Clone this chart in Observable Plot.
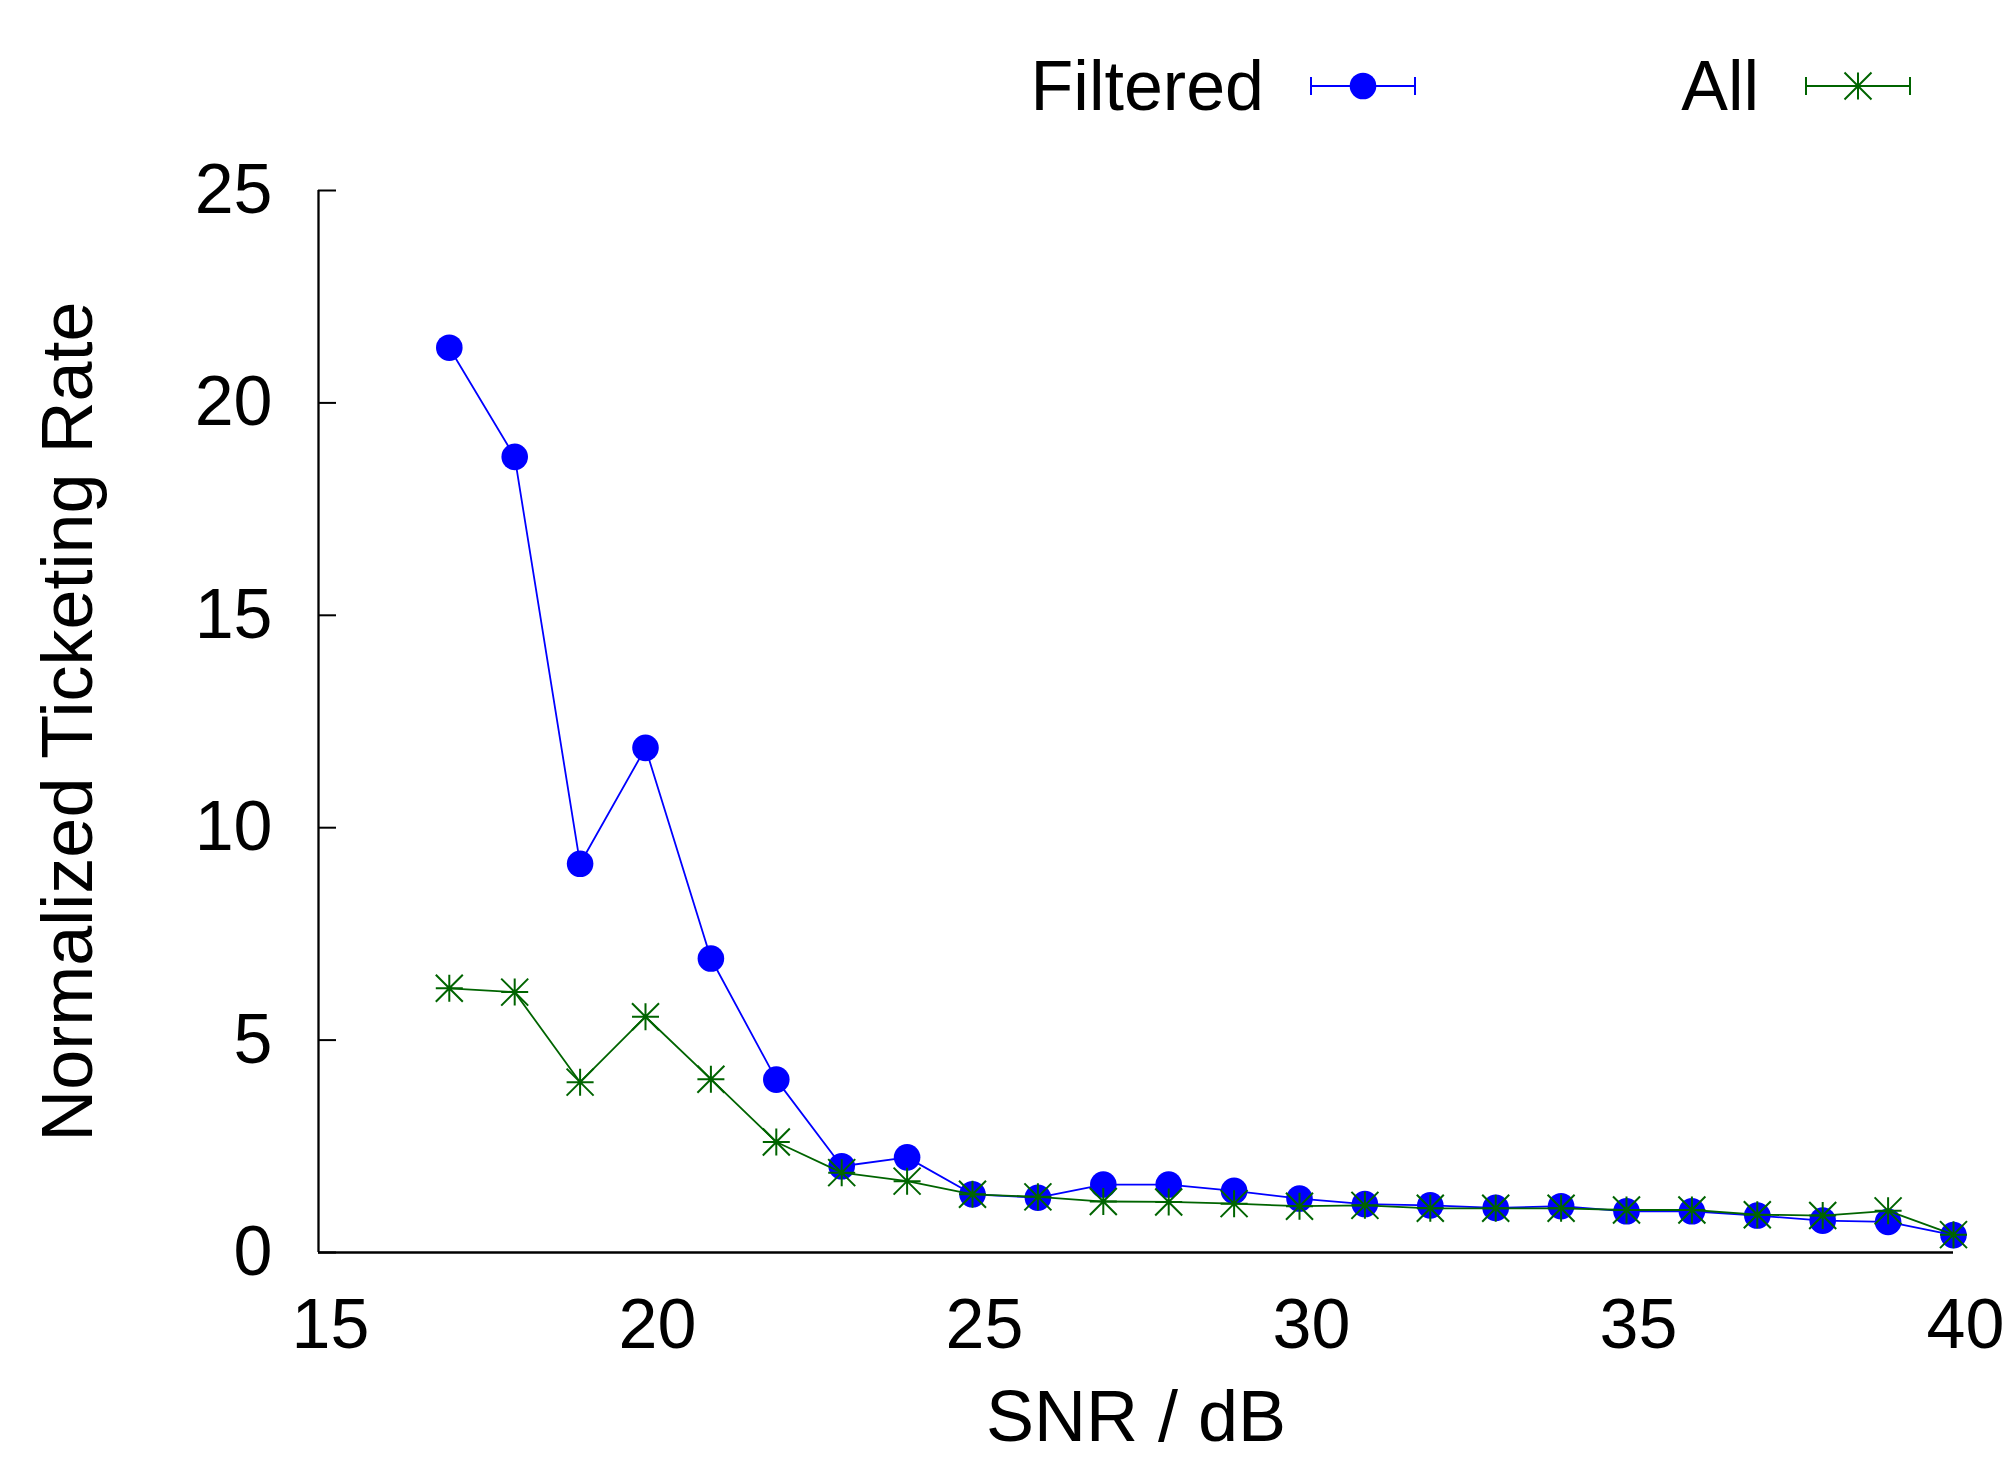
<!DOCTYPE html>
<html>
<head>
<meta charset="utf-8">
<script src="https://cdn.jsdelivr.net/npm/d3@7"></script>
<script src="https://cdn.jsdelivr.net/npm/@observablehq/plot@0.6"></script>
<style>
html, body { margin: 0; padding: 0; background: #ffffff; }
#chart svg { display: block; }
</style>
</head>
<body>
<div id="chart"></div>
<script>
// ---- data ----
const snr = [17, 18, 19, 20, 21, 22, 23, 24, 25, 26, 27, 28, 29, 30, 31, 32, 33, 34, 35, 36, 37, 38, 39, 40];
const filteredRate = [21.3, 18.73, 9.15, 11.88, 6.92, 4.07, 2.03, 2.24, 1.37, 1.29, 1.6, 1.6, 1.45, 1.27, 1.14, 1.11, 1.05, 1.09, 0.97, 0.97, 0.87, 0.75, 0.72, 0.41];
const allRate = [6.22, 6.13, 4.01, 5.55, 4.08, 2.6, 1.88, 1.68, 1.37, 1.31, 1.2, 1.19, 1.15, 1.09, 1.11, 1.04, 1.04, 1.04, 1.0, 1.0, 0.89, 0.87, 0.98, 0.42];
const xTicks = [15, 20, 25, 30, 35, 40];
const yTicks = [0, 5, 10, 15, 20, 25];
const seriesNames = ["Filtered", "All"];
const seriesColors = ["#0000ff", "#006400"];
const xLabel = "SNR / dB";
const yLabel = "Normalized Ticketing Rate";

// ---- style ----
const FONT = "'Liberation Sans', Arial, Helvetica, sans-serif";
const W = 2004;
const LEGEND_H = 150;
const FONT_SIZE = 70;
const LABEL_SIZE = 72;

const starSymbol = {
  draw(context, size) {
    const r = Math.sqrt(size / Math.PI);
    context.moveTo(-r, 0); context.lineTo(r, 0);
    context.moveTo(0, -r); context.lineTo(0, r);
    context.moveTo(-r, -r); context.lineTo(r, r);
    context.moveTo(-r, r); context.lineTo(r, -r);
  }
};

const toRows = (vals, name) => snr.map((x, i) => ({snr: x, value: vals[i], series: name}));
const dataFiltered = toRows(filteredRate, seriesNames[0]);
const dataAll = toRows(allRate, seriesNames[1]);

// ---- legend (above the plot SVG) ----
const legend = d3.create("svg")
  .attr("width", W)
  .attr("height", LEGEND_H)
  .attr("viewBox", `0 0 ${W} ${LEGEND_H}`)
  .style("display", "block")
  .style("background", "#ffffff");

seriesNames.forEach((name, i) => {
  const color = seriesColors[i];
  const right = 1264 + i * 495;
  const x1 = right + 47, x2 = x1 + 104, cx = (x1 + x2) / 2, cy = 86;
  legend.append("text")
    .attr("x", right).attr("y", 110)
    .attr("text-anchor", "end")
    .attr("font-family", FONT)
    .attr("font-size", FONT_SIZE)
    .attr("fill", "#000")
    .text(name);
  const g = legend.append("g").attr("stroke", color).attr("stroke-width", 2).attr("fill", "none");
  g.append("line").attr("x1", x1).attr("x2", x2).attr("y1", cy).attr("y2", cy);
  g.append("line").attr("x1", x1).attr("x2", x1).attr("y1", cy - 9).attr("y2", cy + 9);
  g.append("line").attr("x1", x2).attr("x2", x2).attr("y1", cy - 9).attr("y2", cy + 9);
  if (i === 0) {
    legend.append("circle").attr("cx", cx).attr("cy", cy).attr("r", 13.3).attr("fill", color);
  } else {
    const p = d3.path();
    starSymbol.draw(p, 13.5 * 13.5 * Math.PI);
    legend.append("path").attr("d", p.toString())
      .attr("transform", `translate(${cx},${cy})`)
      .attr("stroke", color).attr("stroke-width", 2).attr("fill", "none");
  }
});

// ---- plot ----
const chart = Plot.plot({
  width: W,
  height: 1308,
  marginTop: 40,
  marginRight: 51,
  marginBottom: 206,
  marginLeft: 318,
  style: {fontFamily: FONT, fontSize: FONT_SIZE + "px", background: "#ffffff", color: "#000000"},
  x: {domain: [15, 40]},
  y: {domain: [0, 25]},
  marks: [
    // x tick labels
    Plot.axisX({
      ticks: xTicks, tickSize: 0, tickPadding: 46, dx: 12,
      fontSize: FONT_SIZE, fill: "#000", label: null
    }),
    // x axis title
    Plot.axisX({
      ticks: [], tickSize: 0, fontSize: LABEL_SIZE, fill: "#000",
      label: xLabel, labelAnchor: "center", labelOffset: 188, labelArrow: "none"
    }),
    // y ticks (inward) and labels
    Plot.axisY({
      ticks: yTicks, tickSize: -18, tickPadding: 64, strokeWidth: 2,
      stroke: "#000", fontSize: FONT_SIZE, fill: "#000", label: null
    }),
    // y axis title
    Plot.axisY({
      ticks: [], tickSize: 0, fontSize: LABEL_SIZE, fill: "#000",
      label: yLabel, labelAnchor: "center", labelOffset: 278, labelArrow: "none"
    }),
    Plot.ruleX([15], {stroke: "#000", strokeWidth: 2.3}),
    Plot.ruleY([0], {stroke: "#000", strokeWidth: 2.3}),
    Plot.line(dataFiltered, {x: "snr", y: "value", stroke: seriesColors[0], strokeWidth: 1.8}),
    Plot.dot(dataFiltered, {x: "snr", y: "value", r: 13.3, fill: seriesColors[0], stroke: "none", symbol: "circle"}),
    Plot.line(dataAll, {x: "snr", y: "value", stroke: seriesColors[1], strokeWidth: 1.8}),
    Plot.dot(dataAll, {x: "snr", y: "value", r: 13.5, symbol: starSymbol, fill: "none", stroke: seriesColors[1], strokeWidth: 2})
  ]
});

const root = document.getElementById("chart");
root.appendChild(legend.node());
root.appendChild(chart);
</script>
</body>
</html>
